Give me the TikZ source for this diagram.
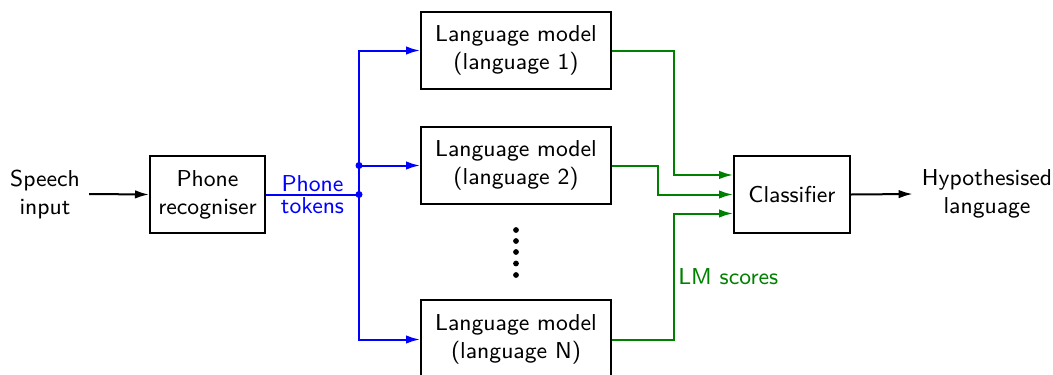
\documentclass[tikz,border=0pt]{standalone}
\usetikzlibrary{arrows.meta,calc}
\definecolor{lmgreen}{RGB}{0,128,0}
\begin{document}
\begin{tikzpicture}[x=0.4pt,y=-0.4pt,
  font=\sffamily\fontsize{9.2}{11.2}\selectfont,
  every path/.style={line width=0.8pt},
  blockbox/.style={draw,inner sep=0pt,align=center},
  lmbox/.style={blockbox,minimum width=76pt,minimum height=30.8pt},
  arr/.style={-{Latex[length=5.6pt,width=3.4pt]}},
  blueline/.style={draw=blue},
  greenline/.style={draw=lmgreen},
  jdot/.style={circle,fill=blue,inner sep=0pt,minimum size=2.8pt}]
\useasboundingbox (0,0) rectangle (1053,374);
\node[align=center] (speech) at (45,194) {Speech\\input};
\node[blockbox,minimum width=46pt,minimum height=30.8pt] (phone) at (207.5,194.5) {Phone\\recogniser};
\node[lmbox] (lm1) at (516,50.5) {Language model\\(language 1)};
\node[lmbox] (lm2) at (516,165.5) {Language model\\(language 2)};
\node[lmbox,minimum height=31.6pt] (lmN) at (516,339.5) {Language model\\(language N)};
\node[blockbox,minimum width=46.4pt,minimum height=30.8pt] (cls) at (792,194.5) {Classifier};
\node[align=center] (hyp) at (987,194) {Hypothesised\\language};
\coordinate (j1) at (359,194.5);
\coordinate (j2) at (j1 |- lm2.west);
\coordinate (c1) at ($(cls.west)+(0,-19.5)$);
\coordinate (c2) at (cls.west);
\coordinate (c3) at ($(cls.west)+(0,19)$);
% dots
\foreach \i [count=\k] in {230,241,252,263.5,275}
  \fill (516,\i) circle (1.15pt) coordinate (d\k);
% input
\draw[arr] (speech.east) -- (phone.west);
% blue
\draw[blueline] (phone.east) -- node[text=blue,align=center,inner sep=0pt,
  font=\sffamily\fontsize{9.2}{8.6}\selectfont] (tok) {Phone\\tokens} (j1);
\draw[blueline,arr] (j1) |- (lm1.west);
\draw[blueline,arr] (j1) |- (lmN.west);
\draw[blueline,arr] (j2) -- (lm2.west);
\node[jdot] at (j1) {};
\node[jdot] at (j2) {};
% green
\draw[greenline,arr] (lm1.east) -- ++(62,0) |- (c1);
\draw[greenline,arr] (lm2.east) -- ++(46,0) |- (c2);
\draw[greenline,arr] (lmN.east) -- ++(62,0) coordinate (gN) |- (c3);
\node[text=lmgreen,anchor=west] (scores) at (669,277) {LM scores};
% output
\draw[arr] (cls.east) -- (hyp.west);
\end{tikzpicture}
\end{document}
